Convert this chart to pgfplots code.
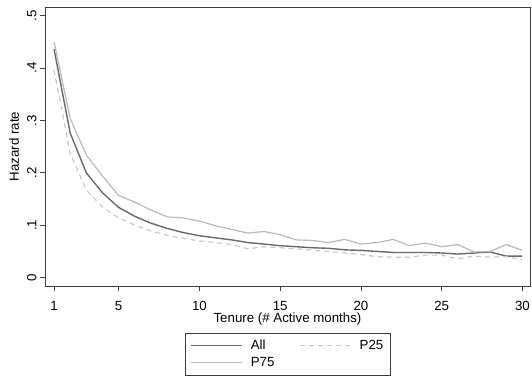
\documentclass[border=0pt]{standalone}
\usepackage{pgfplots}
\pgfplotsset{compat=1.18}
\usepackage{fontspec}
\setmainfont{Liberation Sans}
\definecolor{allc}{RGB}{105,105,105}
\definecolor{p75c}{RGB}{185,185,185}
\definecolor{p25c}{RGB}{200,200,200}
\definecolor{axc}{RGB}{60,60,60}
\pgfplotstableread{
x all p25 p75
1 0.436 0.396 0.450
2 0.276 0.237 0.304
3 0.200 0.167 0.234
4 0.162 0.135 0.194
5 0.134 0.114 0.157
6 0.117 0.100 0.144
7 0.104 0.089 0.129
8 0.094 0.081 0.116
9 0.086 0.075 0.114
10 0.080 0.070 0.108
11 0.076 0.067 0.099
12 0.072 0.063 0.092
13 0.067 0.055 0.085
14 0.064 0.059 0.088
15 0.061 0.057 0.082
16 0.059 0.055 0.072
17 0.057 0.052 0.071
18 0.056 0.050 0.067
19 0.053 0.047 0.073
20 0.052 0.044 0.064
21 0.050 0.040 0.067
22 0.048 0.039 0.073
23 0.048 0.039 0.061
24 0.048 0.043 0.066
25 0.047 0.043 0.059
26 0.045 0.036 0.063
27 0.047 0.041 0.049
28 0.049 0.039 0.050
29 0.041 0.040 0.063
30 0.041 0.034 0.052
}\datatab
\begin{document}
\begin{tikzpicture}
\begin{axis}[
  scale only axis, width=485pt, height=279pt,
  at={(0,0)}, anchor=south west,
  xmin=0.44, xmax=30.47, ymin=-0.016, ymax=0.5166,
  xtick={1,5,10,15,20,25,30},
  ytick={0,0.1,0.2,0.3,0.4,0.5},
  yticklabels={0,.1,.2,.3,.4,.5},
  /pgf/number format/assume math mode=true,
  tick align=outside, major tick length=5pt,
  xtick pos=lower, ytick pos=left,
  tick style={axc, line width=0.8pt},
  axis line style={axc, line width=0.9pt},
  font=\fontsize{13.3}{15}\selectfont,
  tick label style={font=\fontsize{13.3}{15}\selectfont},
  y tick label style={rotate=90, anchor=south},
  x tick label style={yshift=-7pt},
  every axis y label/.style={at={(axis description cs:-0.0639,0.5)}, rotate=90, anchor=center},
  every axis x label/.style={at={(axis description cs:0.5,0)}, anchor=center, yshift=-33pt},
  ylabel={Hazard rate},
  xlabel={Tenure (\# Active months)},
  legend columns=2,
  legend cell align=left,
  legend image code/.code={\draw[#1] (0pt,0pt) -- (51pt,0pt);},
  legend style={at={(0.2887,-0.1674)}, anchor=north west, draw=axc, line width=0.8pt,
    font=\fontsize{13.3}{15}\selectfont, inner xsep=5pt, inner ysep=5pt,
    row sep=2pt,
    /tikz/every odd column/.append style={column sep=6pt},
    /tikz/every even column/.append style={column sep=23pt}},
]
\addplot[allc, line width=1.4pt] table[x=x, y=all] {\datatab};
\addlegendentry{All}
\addplot[p25c, line width=1.2pt, dash pattern=on 5pt off 4pt] table[x=x, y=p25] {\datatab};
\addlegendentry{P25\hspace{5pt}}
\addplot[p75c, line width=1.2pt] table[x=x, y=p75] {\datatab};
\addlegendentry{P75}
\end{axis}
\pgfresetboundingbox
\path[use as bounding box] (-45pt,-90pt) rectangle (487pt,286pt);
\end{tikzpicture}
\end{document}
